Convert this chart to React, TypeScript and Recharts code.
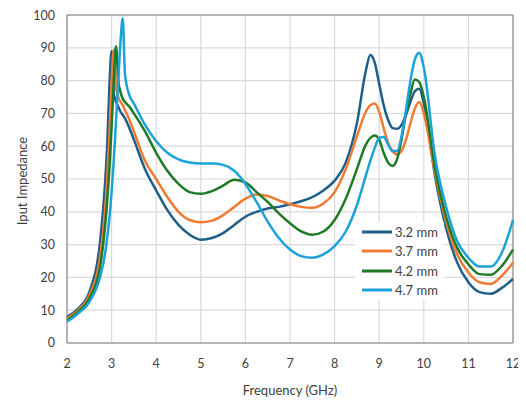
import { LineChart, Line, XAxis, YAxis, CartesianGrid, Legend, ReferenceLine } from "recharts"

const freqs = [
  2, 2.25, 2.5, 2.75, 2.85, 2.9, 2.95, 3.0, 3.05, 3.1, 3.15, 3.2, 3.25, 3.3, 3.4, 3.5, 3.75, 4, 4.25, 4.5,
  4.75, 5, 5.25, 5.5, 5.75, 6, 6.25, 6.5, 6.75, 7, 7.25, 7.5, 7.75, 8, 8.25, 8.5, 8.7, 8.8, 8.9, 9.0,
  9.1, 9.2, 9.3, 9.4, 9.5, 9.6, 9.7, 9.8, 9.9, 10.0, 10.25, 10.5, 10.75, 11, 11.25, 11.5, 11.75, 12,
]

const mm32 = [
  8, 10.5, 15.5, 32, 48, 60, 78, 89, 76, 73.5, 72, 70.5, 69.5, 68.5, 65.5, 62, 53, 46.5, 40.5, 36,
  33, 31.5, 32, 33.5, 36, 38.5, 40, 41, 41.5, 42.3, 43.2, 44.5, 46.5, 49.5, 55, 67, 83, 87.8, 85.5, 79,
  72.5, 68, 65.5, 65.3, 66.5, 69.5, 73.5, 76.8, 77.5, 73, 51, 35, 24.5, 18.5, 15.5, 15, 16.8, 19.5,
]

const mm37 = [
  7.5, 10, 14.5, 27, 40, 50, 63, 80, 89.5, 78, 75, 73.5, 72.5, 71, 68, 64.5, 55.5, 50, 44.5, 40,
  37.5, 36.8, 37.3, 39, 41.5, 44, 45.3, 44.8, 43.5, 42.3, 41.5, 41.2, 42.5, 46, 53, 63, 70.5, 72.5, 73, 70.5,
  65.5, 61, 58.5, 57.5, 58.5, 62, 67, 71.5, 73.5, 70, 52, 37, 27, 21.5, 18.5, 18, 20.5, 24.5,
]

const mm42 = [
  7, 9.5, 13.5, 24, 35, 43, 53, 66, 80, 90.5, 80, 76.5, 74.5, 73.5, 72, 70, 64.5, 58, 52.5, 48.5,
  46, 45.5, 46.3, 48, 49.8, 49, 46, 43, 39.5, 36.5, 34, 33, 34, 37.5, 44, 53, 60.5, 62.5, 63.3, 62,
  58, 55, 54, 56, 62, 70, 76, 80.3, 79.5, 75, 53.5, 38.5, 29, 24, 21, 20.8, 23.5, 28.5,
]

const mm47 = [
  6.5, 9, 12.5, 20.5, 27, 32, 38, 46, 56, 68, 80, 92, 99, 82, 75.5, 73, 66.5, 61.5, 58, 56,
  55, 54.7, 54.7, 54.3, 52.5, 48.5, 43, 37, 32, 28.5, 26.5, 26, 27, 29.5, 34, 42, 51, 55.5, 59.5, 62.5,
  62.8, 60.5, 58.5, 58.5, 63, 71, 80, 86.5, 88.5, 84, 57, 41.5, 31, 26, 23.3, 23.3, 27.5, 37.5,
]

const seriesNames = ["3.2 mm", "3.7 mm", "4.2 mm", "4.7 mm"]
const seriesColors = ["#1d5f8a", "#ef7b32", "#1f7a26", "#1ca2da"]
const xTicks = [2, 3, 4, 5, 6, 7, 8, 9, 10, 11, 12]
const yTicks = [0, 10, 20, 30, 40, 50, 60, 70, 80, 90, 100]

const rows = freqs.map((f, i) => ({ f, s0: mm32[i], s1: mm37[i], s2: mm42[i], s3: mm47[i] }))

const font = "Lato, 'Liberation Sans', sans-serif"
const textColor = "#404040"

function LegendBox() {
  return (
    <div style={{ background: "#fff", padding: "0 6px 0 7px", fontFamily: font, fontSize: 13, color: textColor }}>
      {seriesNames.map((n, i) => (
        <div key={n} style={{ display: "flex", alignItems: "center", height: 19.5 }}>
          <svg width={30} height={4}>
            <line x1={0} y1={2} x2={30} y2={2} stroke={seriesColors[i]} strokeWidth={3} />
          </svg>
          <span style={{ marginLeft: 3 }}>{n}</span>
        </div>
      ))}
    </div>
  )
}

function YTitle(props: any) {
  const vb = props.viewBox
  const cx = 14
  const cy = vb.y + vb.height / 2 + 2
  return (
    <text x={cx} y={cy} transform={`rotate(-90 ${cx} ${cy})`} textAnchor="middle" dominantBaseline="central"
      fontFamily={font} fontSize={13} fill={textColor}>
      Iput Impedance
    </text>
  )
}

export default function App() {
  return (
    <LineChart width={518} height={397} data={rows} margin={{ top: 7, right: 13, left: 0, bottom: 0 }}>
      <CartesianGrid stroke="#d9d9d9" strokeWidth={1.2} />
      <XAxis
        dataKey="f"
        type="number"
        domain={[2, 12]}
        ticks={xTicks}
        height={62}
        tickLine={false}
        tickSize={0}
        tickMargin={16}
        axisLine={{ stroke: "#7f7f7f" }}
        tick={{ fill: textColor, fontSize: 12.5, fontFamily: font }}
        label={{ value: "Frequency (GHz)", position: "insideBottom", offset: 10, fill: textColor, fontSize: 13, fontFamily: font }}
      />
      <YAxis
        type="number"
        domain={[0, 100]}
        ticks={yTicks}
        width={59}
        tickLine={false}
        tickSize={0}
        tickMargin={12}
        axisLine={{ stroke: "#7f7f7f" }}
        tick={{ fill: textColor, fontSize: 12.5, fontFamily: font }}
        label={<YTitle />}
      />
      <ReferenceLine y={100} stroke="#7f7f7f" />
      <ReferenceLine x={12} stroke="#7f7f7f" />
      <Legend
        content={<LegendBox />}
        layout="vertical"
        align="center"
        verticalAlign="middle"
        wrapperStyle={{ left: 347, top: 214, width: "auto" }}
      />
      {["s0", "s1", "s2", "s3"].map((k, i) => (
        <Line
          key={k}
          type="monotone"
          dataKey={k}
          name={seriesNames[i]}
          stroke={seriesColors[i]}
          strokeWidth={2.5}
          dot={false}
          isAnimationActive={false}
        />
      ))}
    </LineChart>
  )
}
